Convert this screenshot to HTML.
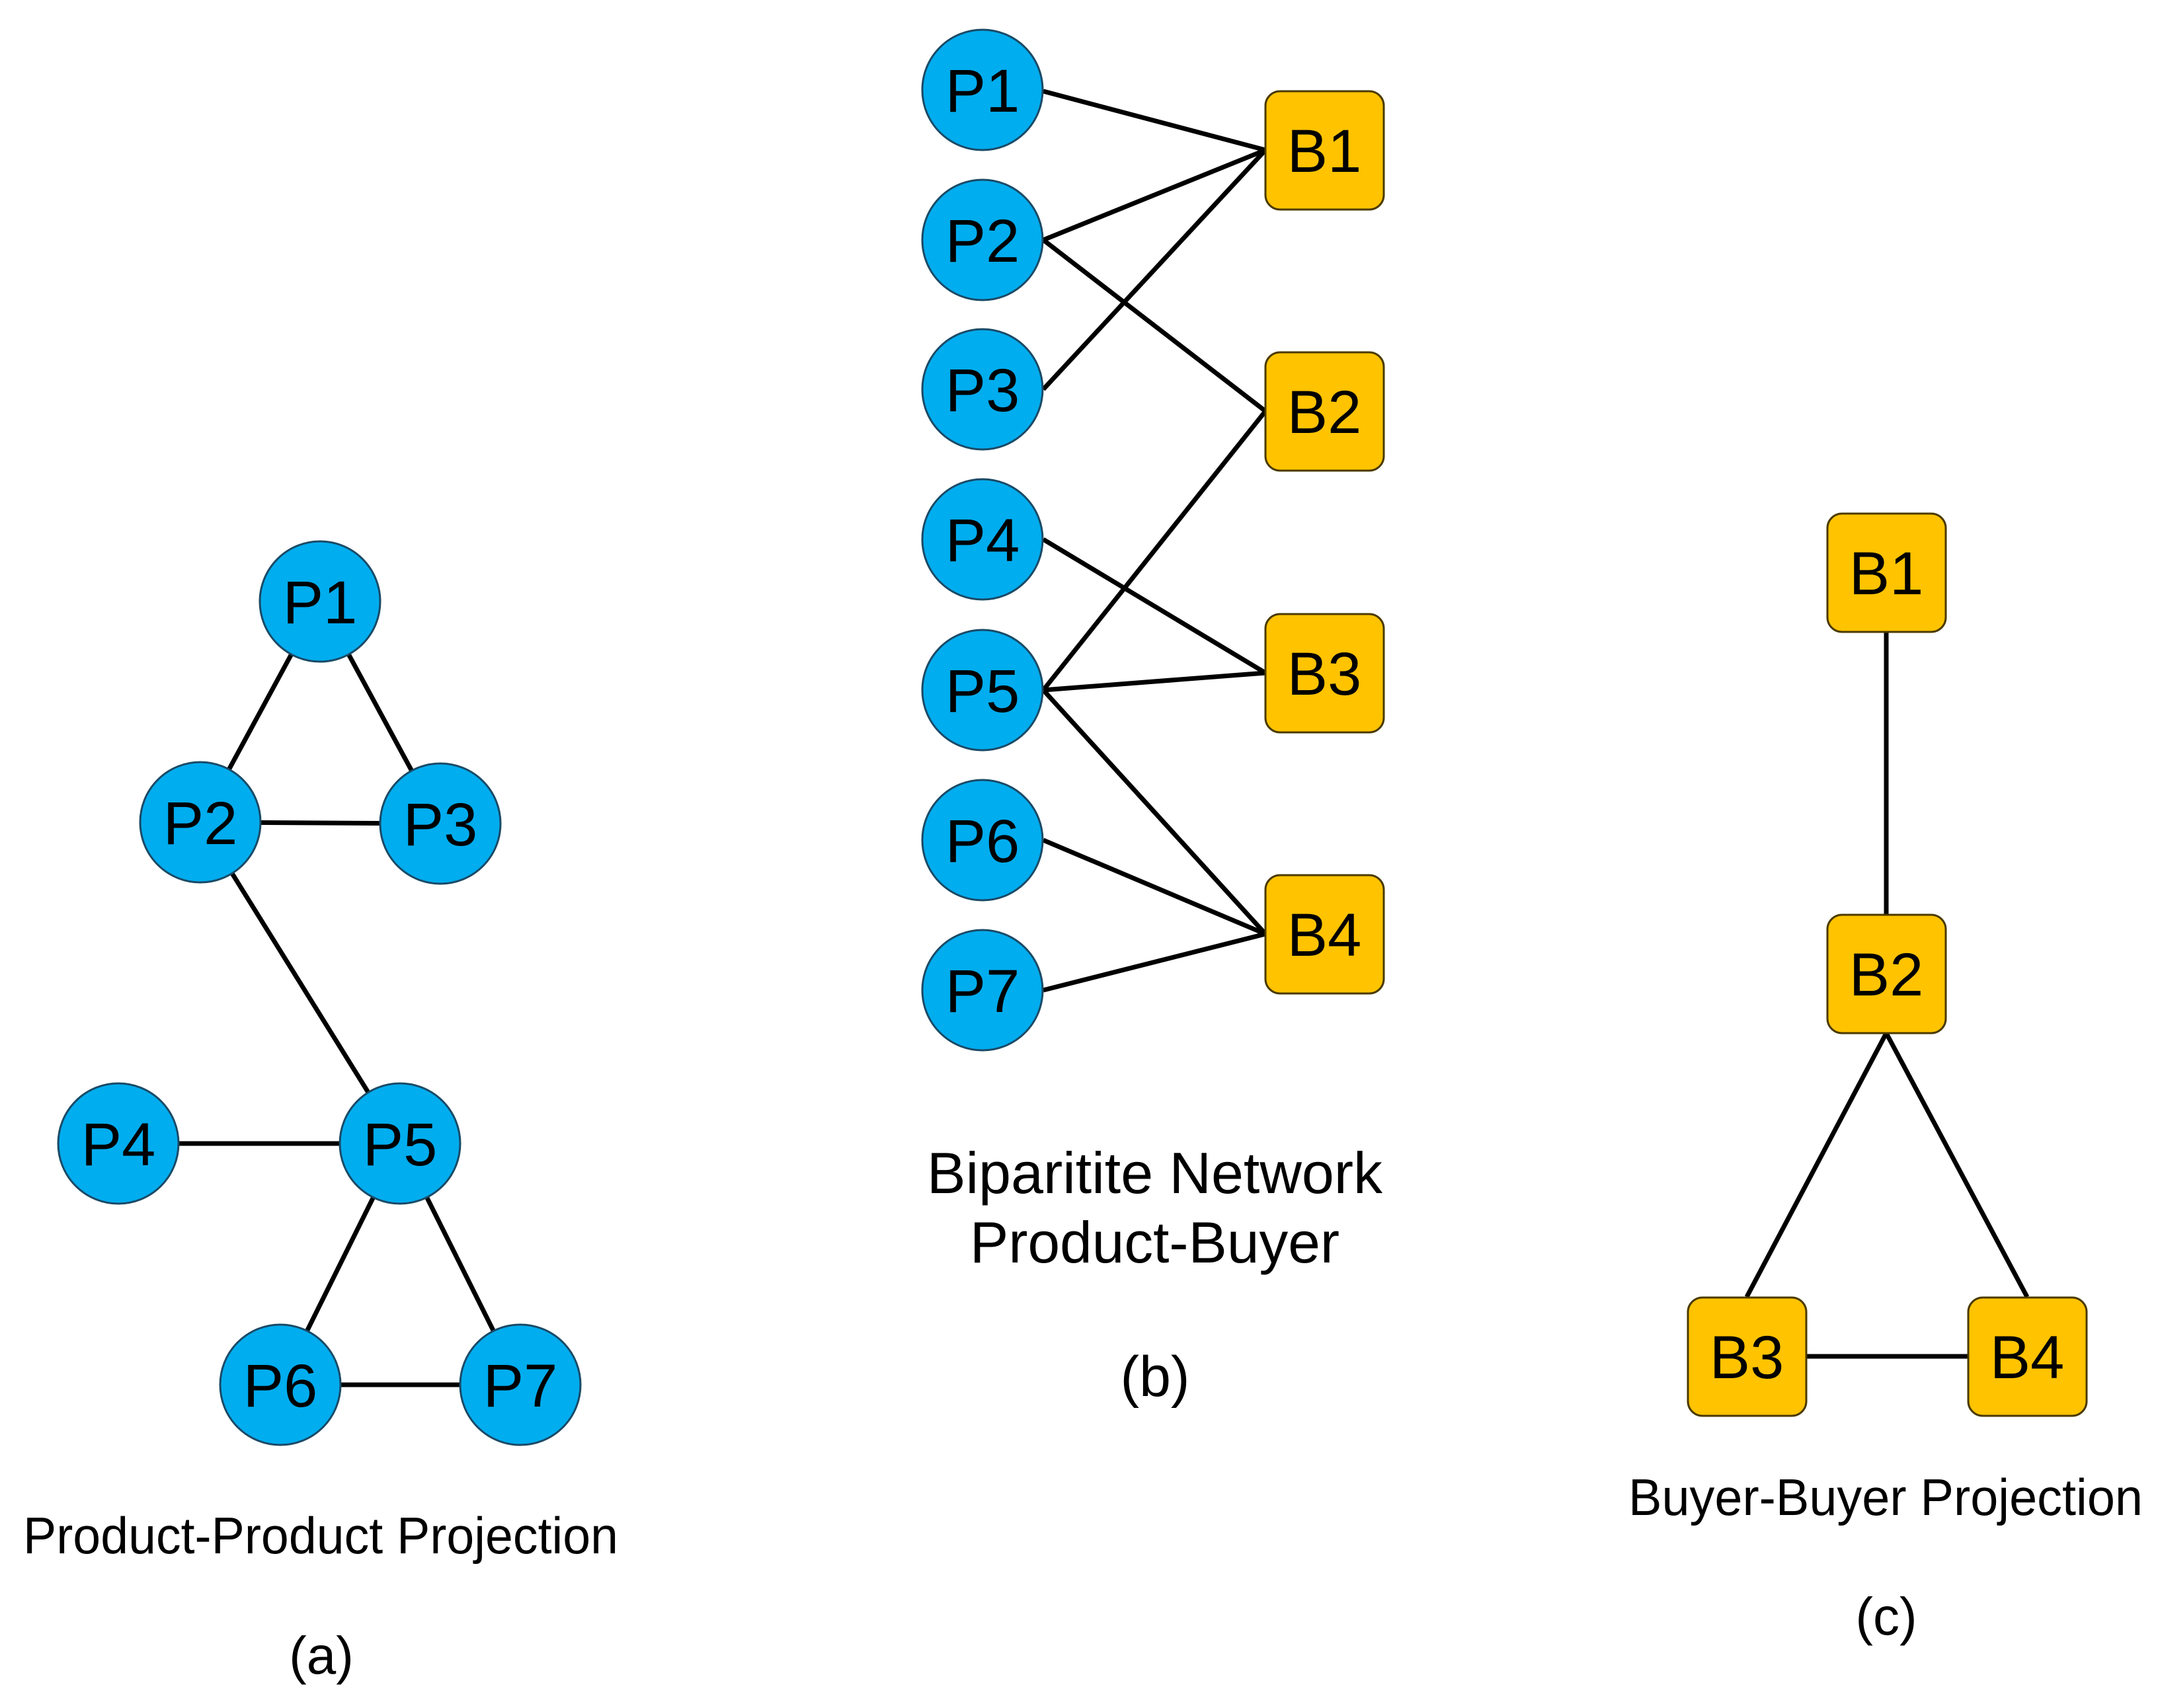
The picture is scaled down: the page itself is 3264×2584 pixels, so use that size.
<!DOCTYPE html>
<html><head><meta charset="utf-8"><style>html,body{margin:0;padding:0;background:#fff}svg{display:block}</style></head>
<body>
<svg width="3264" height="2584" viewBox="0 0 3264 2584" xmlns="http://www.w3.org/2000/svg" font-family="Liberation Sans, Arial, sans-serif">
<rect width="3264" height="2584" fill="#fff"/>
<g stroke="#000" stroke-width="7" fill="none">
<!-- (a) edges -->
<line x1="484" y1="910" x2="303" y2="1244"/>
<line x1="484" y1="910" x2="666" y2="1246"/>
<line x1="303" y1="1244" x2="666" y2="1246"/>
<line x1="303" y1="1244" x2="605" y2="1730"/>
<line x1="179" y1="1730" x2="605" y2="1730"/>
<line x1="605" y1="1730" x2="424" y2="2095"/>
<line x1="605" y1="1730" x2="787" y2="2095"/>
<line x1="424" y1="2095" x2="787" y2="2095"/>
<!-- (b) edges -->
<line x1="1578" y1="138" x2="1914" y2="227"/>
<line x1="1578" y1="363" x2="1914" y2="227"/>
<line x1="1578" y1="589" x2="1914" y2="227"/>
<line x1="1578" y1="363" x2="1914" y2="622"/>
<line x1="1578" y1="1044" x2="1914" y2="622"/>
<line x1="1578" y1="816" x2="1914" y2="1018"/>
<line x1="1578" y1="1044" x2="1914" y2="1018"/>
<line x1="1578" y1="1044" x2="1914" y2="1413"/>
<line x1="1578" y1="1271" x2="1914" y2="1413"/>
<line x1="1578" y1="1498" x2="1914" y2="1413"/>
<!-- (c) edges -->
<line x1="2853" y1="866" x2="2853" y2="1473"/>
<line x1="2853" y1="1563" x2="2642" y2="1962"/>
<line x1="2853" y1="1563" x2="3066" y2="1962"/>
<line x1="2642" y1="2052" x2="3066" y2="2052"/>
</g>
<g fill="#00ADEF" stroke="#1a4a66" stroke-width="3">
<circle cx="484" cy="910" r="91"/>
<circle cx="303" cy="1244" r="91"/>
<circle cx="666" cy="1246" r="91"/>
<circle cx="179" cy="1730" r="91"/>
<circle cx="605" cy="1730" r="91"/>
<circle cx="424" cy="2095" r="91"/>
<circle cx="787" cy="2095" r="91"/>
<circle cx="1486" cy="136" r="91"/>
<circle cx="1486" cy="363" r="91"/>
<circle cx="1486" cy="589" r="91"/>
<circle cx="1486" cy="816" r="91"/>
<circle cx="1486" cy="1044" r="91"/>
<circle cx="1486" cy="1271" r="91"/>
<circle cx="1486" cy="1498" r="91"/>
</g>
<g fill="#FFC300" stroke="#4a3a00" stroke-width="3">
<rect x="1914" y="138" width="179" height="179" rx="22"/>
<rect x="1914" y="533" width="179" height="179" rx="22"/>
<rect x="1914" y="929" width="179" height="179" rx="22"/>
<rect x="1914" y="1324" width="179" height="179" rx="22"/>
<rect x="2764" y="777" width="179" height="179" rx="22"/>
<rect x="2764" y="1384" width="179" height="179" rx="22"/>
<rect x="2553" y="1963" width="179" height="179" rx="22"/>
<rect x="2977" y="1963" width="179" height="179" rx="22"/>
</g>
<g font-size="92" text-anchor="middle" fill="#000">
<text x="484" y="943">P1</text>
<text x="303" y="1277">P2</text>
<text x="666" y="1279">P3</text>
<text x="179" y="1763">P4</text>
<text x="605" y="1763">P5</text>
<text x="424" y="2128">P6</text>
<text x="787" y="2128">P7</text>
<text x="1486" y="169">P1</text>
<text x="1486" y="396">P2</text>
<text x="1486" y="622">P3</text>
<text x="1486" y="849">P4</text>
<text x="1486" y="1077">P5</text>
<text x="1486" y="1304">P6</text>
<text x="1486" y="1531">P7</text>
<text x="2003" y="260">B1</text>
<text x="2003" y="655">B2</text>
<text x="2003" y="1051">B3</text>
<text x="2003" y="1446">B4</text>
<text x="2853" y="899">B1</text>
<text x="2853" y="1506">B2</text>
<text x="2642" y="2085">B3</text>
<text x="3066" y="2085">B4</text>
</g>
<g fill="#000" text-anchor="start">
<text x="35" y="2350" font-size="78" textLength="900" lengthAdjust="spacingAndGlyphs">Product-Product Projection</text>
<text x="1402" y="1805" font-size="88" textLength="689" lengthAdjust="spacingAndGlyphs">Biparitite Network</text>
<text x="1467" y="1910" font-size="88" textLength="559" lengthAdjust="spacingAndGlyphs">Product-Buyer</text>
<text x="2463" y="2292" font-size="78" textLength="778" lengthAdjust="spacingAndGlyphs">Buyer-Buyer Projection</text>
</g>
<g fill="#000" text-anchor="middle">
<text x="486" y="2532" font-size="80">(a)</text>
<text x="1747" y="2112" font-size="86">(b)</text>
<text x="2853" y="2473" font-size="80">(c)</text>
</g>
</svg>
</body></html>
